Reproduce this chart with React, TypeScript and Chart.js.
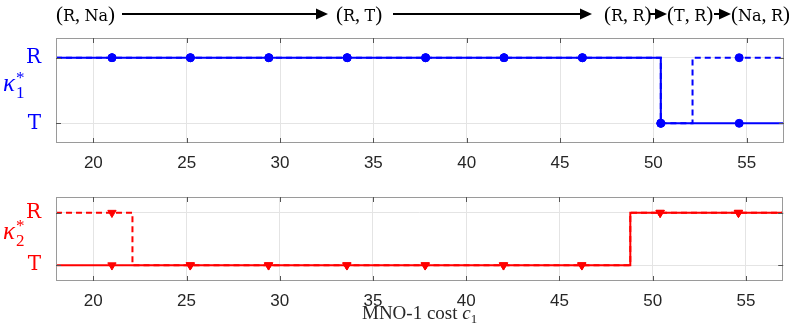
import React, { useEffect, useRef } from "react";
import { Chart, registerables } from "chart.js";

Chart.register(...registerables);

// ---------- data ----------
const xMin = 18;
const xMax = 57;
const xTicks = [20, 25, 30, 35, 40, 45, 50, 55];
const stateLabels = ["T", "R"]; // 0 -> T, 1 -> R
const markerCosts = [21, 25.2, 29.4, 33.6, 37.8, 42, 46.2, 50.4, 54.6];
const k1SolidMarks = [1, 1, 1, 1, 1, 1, 1, 0, 0];
const k1DashedMarks = [1, 1, 1, 1, 1, 1, 1, 0, 1];
const k2SolidMarks = [0, 0, 0, 0, 0, 0, 0, 1, 1];
const k2DashedMarks = [1, 0, 0, 0, 0, 0, 0, 1, 1];
const k1SolidStepX = [18, 50.4, 57];
const k1SolidStepY = [1, 0, 0];
const k1DashedStepX = [18, 50.4, 52.1, 57];
const k1DashedStepY = [1, 0, 1, 1];
const k2SolidStepX = [18, 48.8, 57];
const k2SolidStepY = [0, 1, 1];
const k2DashedStepX = [18, 22.1, 48.8, 57];
const k2DashedStepY = [1, 0, 1, 1];
const transitionPairs = [
  ["R", "Na"],
  ["R", "T"],
  ["R", "R"],
  ["T", "R"],
  ["Na", "R"],
];
const xAxisTitle = "MNO-1 cost ";

// ---------- styling ----------
const W = 789;
const TOP_H = 170;
const BOT_H = 159;
const TT = "'DejaVu Serif', 'Liberation Serif', serif";
const SERIF = "'Liberation Serif', 'DejaVu Serif', serif";
const SANS = "'Liberation Sans', Arial, sans-serif";
const BLUE = "#0000ff";
const RED = "#ff0000";

const pts = (xs: number[], ys: number[]) => xs.map((x, i) => ({ x, y: ys[i] }));

const boxPlugin = {
  id: "box",
  afterDatasetsDraw(chart: any) {
    const { ctx, chartArea: a, scales } = chart;
    ctx.save();
    ctx.strokeStyle = "#9a9a9a";
    ctx.lineWidth = 1;
    ctx.strokeRect(Math.round(a.left) + 0.5, Math.round(a.top) + 0.5, Math.round(a.right - a.left) - 1, Math.round(a.bottom - a.top) - 1);
    ctx.strokeStyle = "#555";
    ctx.beginPath();
    scales.x.ticks.forEach((t: any) => {
      const px = Math.round(scales.x.getPixelForValue(t.value)) + 0.5;
      ctx.moveTo(px, a.top);
      ctx.lineTo(px, a.top + 5);
      ctx.moveTo(px, a.bottom);
      ctx.lineTo(px, a.bottom - 5);
    });
    scales.y.ticks.forEach((t: any) => {
      const py = Math.round(scales.y.getPixelForValue(t.value)) + 0.5;
      ctx.moveTo(a.left, py);
      ctx.lineTo(a.left + 5, py);
      ctx.moveTo(a.right, py);
      ctx.lineTo(a.right - 5, py);
    });
    ctx.stroke();
    ctx.restore();
  },
};

function kappaPlugin(sub: string, color: string) {
  return {
    id: "kappa" + sub,
    afterDraw(chart: any) {
      const { ctx, scales } = chart;
      const yMid = (scales.y.getPixelForValue(0) + scales.y.getPixelForValue(1)) / 2;
      const base = yMid;
      ctx.save();
      ctx.fillStyle = color;
      ctx.textBaseline = "alphabetic";
      ctx.textAlign = "left";
      ctx.font = `italic 25px ${SERIF}`;
      ctx.fillText("\u03BA", 3, base);
      const w = ctx.measureText("\u03BA").width;
      ctx.font = `17px ${SERIF}`;
      ctx.fillText(sub, 3 + w + 1, base + 7);
      ctx.fillText("*", 3 + w + 1, base - 8);
      ctx.restore();
    },
  };
}

function drawPair(ctx: any, x: number, y: number, a: string, b: string) {
  const parts: [string, string][] = [
    ["(", `21px ${SERIF}`],
    [a, `16px ${TT}`],
    [",", `20px ${SERIF}`],
    [" ", `18px ${SERIF}`],
    [b, `16px ${TT}`],
    [")", `21px ${SERIF}`],
  ];
  let cx = x;
  parts.forEach(([txt, f]) => {
    ctx.font = f;
    ctx.fillText(txt, cx, y);
    cx += ctx.measureText(txt).width;
  });
  return cx;
}

function drawArrow(ctx: any, x1: number, x2: number, y: number) {
  ctx.beginPath();
  ctx.moveTo(x1, y);
  ctx.lineTo(x2 - 8, y);
  ctx.lineWidth = 2;
  ctx.stroke();
  ctx.beginPath();
  ctx.moveTo(x2, y);
  ctx.lineTo(x2 - 12, y - 5.5);
  ctx.lineTo(x2 - 12, y + 5.5);
  ctx.closePath();
  ctx.fill();
}

const annotationPlugin = {
  id: "transitions",
  afterDraw(chart: any) {
    const { ctx } = chart;
    ctx.save();
    ctx.fillStyle = "#000";
    ctx.strokeStyle = "#000";
    ctx.textBaseline = "alphabetic";
    ctx.textAlign = "left";
    const starts = [56, 336, 604, 667, 731];
    const arrows = [
      [122, 328],
      [393, 592],
      [650, 667],
      [714, 731],
    ];
    const base = 21;
    transitionPairs.forEach(([a, b], i) => drawPair(ctx, starts[i], base, a, b));
    arrows.forEach(([a, b]) => drawArrow(ctx, a, b, 14));
    ctx.restore();
  },
};

const xTitlePlugin = {
  id: "xtitle",
  afterDraw(chart: any) {
    const { ctx, chartArea: a } = chart;
    ctx.save();
    ctx.fillStyle = "#262626";
    ctx.textBaseline = "alphabetic";
    ctx.textAlign = "left";
    ctx.font = `19px ${SERIF}`;
    const w1 = ctx.measureText(xAxisTitle).width;
    ctx.font = `italic 19px ${SERIF}`;
    const w2 = ctx.measureText("c").width;
    ctx.font = `13px ${SERIF}`;
    const w3 = ctx.measureText("1").width;
    const total = w1 + w2 + w3;
    let x = (a.left + a.right) / 2 - total / 2;
    const base = 149;
    ctx.font = `19px ${SERIF}`;
    ctx.fillText(xAxisTitle, x, base);
    x += w1;
    ctx.font = `italic 19px ${SERIF}`;
    ctx.fillText("c", x, base);
    x += w2;
    ctx.font = `13px ${SERIF}`;
    ctx.fillText("1", x, base + 4);
    ctx.restore();
  },
};

function makeConfig(opts: {
  color: string;
  solidX: number[];
  solidY: number[];
  dashedX: number[];
  dashedY: number[];
  solidMarks: number[];
  dashedMarks: number[];
  marker: string;
  rotation: number;
  topPad: number;
  xAxisHeight: number;
  plugins: any[];
}) {
  const lineBase = {
    showLine: true,
    stepped: "before" as const,
    pointRadius: 0,
    borderWidth: 2,
    borderColor: opts.color,
    backgroundColor: opts.color,
    fill: false,
  };
  const markBase = {
    showLine: false,
    pointRadius: opts.marker === "circle" ? 4 : 4.8,
    pointStyle: opts.marker,
    rotation: opts.rotation,
    pointBorderWidth: 1,
    borderColor: opts.color,
    backgroundColor: opts.color,
    pointBackgroundColor: opts.color,
    pointBorderColor: opts.color,
  };
  return {
    type: "line" as const,
    data: {
      datasets: [
        { ...lineBase, data: pts(opts.solidX, opts.solidY) },
        { ...lineBase, borderDash: [6, 4], data: pts(opts.dashedX, opts.dashedY) },
        { ...markBase, data: pts(markerCosts, opts.solidMarks) },
        { ...markBase, data: pts(markerCosts, opts.dashedMarks) },
      ],
    },
    options: {
      animation: false as const,
      responsive: false,
      maintainAspectRatio: false,
      events: [],
      layout: { padding: { left: 0, right: 3, top: opts.topPad, bottom: 0 } },
      plugins: { legend: { display: false }, tooltip: { enabled: false } },
      scales: {
        x: {
          type: "linear" as const,
          min: xMin,
          max: xMax,
          afterBuildTicks: (axis: any) => {
            axis.ticks = xTicks.map((v) => ({ value: v }));
          },
          afterFit: (axis: any) => {
            axis.height = opts.xAxisHeight;
          },
          ticks: {
            callback: (v: any) => String(v),
            font: { family: SANS, size: 17 },
            color: "#262626",
            padding: 10,
            maxRotation: 0,
          },
          grid: { color: "#e4e4e4", drawTicks: false, lineWidth: 1 },
          border: { display: false },
        },
        y: {
          type: "linear" as const,
          min: -0.3,
          max: 1.3,
          afterBuildTicks: (axis: any) => {
            axis.ticks = [0, 1].map((v) => ({ value: v }));
          },
          afterFit: (axis: any) => {
            axis.width = 56;
          },
          ticks: {
            callback: (v: any) => stateLabels[v],
            font: { family: TT, size: 20 },
            color: opts.color,
            padding: 15,
          },
          grid: { color: "#e4e4e4", drawTicks: false, lineWidth: 1 },
          border: { display: false },
        },
      },
    },
    plugins: [boxPlugin, ...opts.plugins],
  };
}

export default function App() {
  const topRef = useRef<HTMLCanvasElement | null>(null);
  const botRef = useRef<HTMLCanvasElement | null>(null);

  useEffect(() => {
    const top = new Chart(
      topRef.current as HTMLCanvasElement,
      makeConfig({
        color: BLUE,
        solidX: k1SolidStepX,
        solidY: k1SolidStepY,
        dashedX: k1DashedStepX,
        dashedY: k1DashedStepY,
        solidMarks: k1SolidMarks,
        dashedMarks: k1DashedMarks,
        marker: "circle",
        rotation: 0,
        topPad: 38,
        xAxisHeight: TOP_H - 144,
        plugins: [kappaPlugin("1", BLUE), annotationPlugin],
      }) as any
    );
    const bot = new Chart(
      botRef.current as HTMLCanvasElement,
      makeConfig({
        color: RED,
        solidX: k2SolidStepX,
        solidY: k2SolidStepY,
        dashedX: k2DashedStepX,
        dashedY: k2DashedStepY,
        solidMarks: k2SolidMarks,
        dashedMarks: k2DashedMarks,
        marker: "triangle",
        rotation: 180,
        topPad: 6,
        xAxisHeight: BOT_H - 111,
        plugins: [kappaPlugin("2", RED), xTitlePlugin],
      }) as any
    );
    return () => {
      top.destroy();
      bot.destroy();
    };
  }, []);

  return (
    <div style={{ position: "fixed", left: 0, top: 0, width: W, height: TOP_H + BOT_H, background: "#fff" }}>
      <canvas ref={topRef} width={W} height={TOP_H} style={{ display: "block", width: W, height: TOP_H }} />
      <canvas ref={botRef} width={W} height={BOT_H} style={{ display: "block", width: W, height: BOT_H }} />
    </div>
  );
}
